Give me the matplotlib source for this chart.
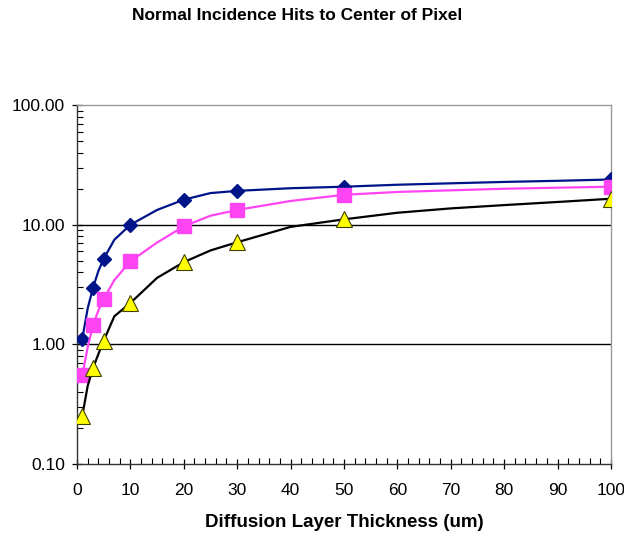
import numpy as np
import matplotlib
matplotlib.use("Agg")
import matplotlib.pyplot as plt
from matplotlib.ticker import FixedLocator, MultipleLocator, FormatStrFormatter, LogLocator, NullFormatter

plt.rcParams['font.family'] = ['Liberation Sans', 'DejaVu Sans']

# thickness (um) where the markers sit
x_pts = [1, 3, 5, 10, 20, 30, 50, 100]
blue_pts = [1.12, 2.98, 5.2, 10.0, 16.2, 19.2, 20.8, 23.9]
pink_pts = [0.55, 1.44, 2.40, 4.95, 9.7, 13.3, 17.8, 20.8]
yellow_pts = [0.254, 0.635, 1.075, 2.22, 4.87, 7.14, 11.1, 16.5]

# finer samples for the connecting curves
x_line = [1, 2, 3, 4, 5, 7, 10, 15, 20, 25, 30, 40, 50, 60, 70, 80, 90, 100]
blue_line = [1.12, 2.0, 2.98, 4.1, 5.2, 7.5, 10.0, 13.3, 16.2, 18.4, 19.2, 20.2, 20.8, 21.6, 22.2, 22.8, 23.3, 23.9]
pink_line = [0.55, 0.95, 1.44, 1.92, 2.40, 3.45, 4.95, 7.1, 9.7, 11.9, 13.3, 15.8, 17.8, 18.8, 19.4, 20.0, 20.4, 20.8]
yellow_line = [0.254, 0.45, 0.635, 0.83, 1.075, 1.72, 2.22, 3.6, 4.87, 6.1, 7.14, 9.6, 11.1, 12.6, 13.7, 14.6, 15.5, 16.5]

title = "Normal Incidence Hits to Center of Pixel"
xlabel = "Diffusion Layer Thickness (um)"
y_major = [0.1, 1, 10, 100]

fig = plt.figure(figsize=(6.24, 5.39), dpi=100)
ax = fig.add_axes([0.1234, 0.139, 0.8556, 0.666])

ax.set_yscale('log')
ax.set_xlim(0, 100)
ax.set_ylim(0.1, 100)

for v in y_major[1:-1]:
    ax.axhline(v, color='black', lw=1.0, zorder=1)

navy = '#00148a'
pink = '#ff44f4'

ax.plot(x_line, blue_line, color=navy, lw=1.6, zorder=3)
ax.plot(x_pts, blue_pts, ls='none', marker='D', ms=7.4, color=navy, zorder=4)
ax.plot(x_line, pink_line, color=pink, lw=1.6, zorder=5)
ax.plot(x_pts, pink_pts, ls='none', marker='s', ms=10, color=pink, zorder=6)
ax.plot(x_line, yellow_line, color='black', lw=1.6, zorder=7)
ax.plot(x_pts, yellow_pts, ls='none', marker='^', ms=12, mfc='#ffff00',
        mec='#404000', mew=0.8, zorder=8)

ax.yaxis.set_major_locator(FixedLocator(y_major))
ax.yaxis.set_major_formatter(FormatStrFormatter('%.2f'))
ax.yaxis.set_minor_locator(LogLocator(base=10, subs=np.arange(2, 10)))
ax.yaxis.set_minor_formatter(NullFormatter())
ax.xaxis.set_major_locator(MultipleLocator(10))
ax.xaxis.set_minor_locator(MultipleLocator(2))

ax.tick_params(which='major', direction='inout', length=7, width=0.9,
               labelsize=12.5, colors='black')
ax.tick_params(which='minor', direction='in', length=4, width=0.8)
ax.tick_params(axis='x', which='major', pad=10)
ax.tick_params(axis='y', which='major', pad=5)

for side in ['left', 'bottom']:
    ax.spines[side].set_color('#333333')
    ax.spines[side].set_linewidth(1.0)
for side in ['top', 'right']:
    ax.spines[side].set_color('#999999')
    ax.spines[side].set_linewidth(1.0)

ax.set_xlabel(xlabel, fontsize=13.5, fontweight='bold', labelpad=12)
fig.text(0.476, 0.972, title, fontsize=12.5, fontweight='bold', ha='center', va='center')

fig.savefig('out.png', dpi=100)
